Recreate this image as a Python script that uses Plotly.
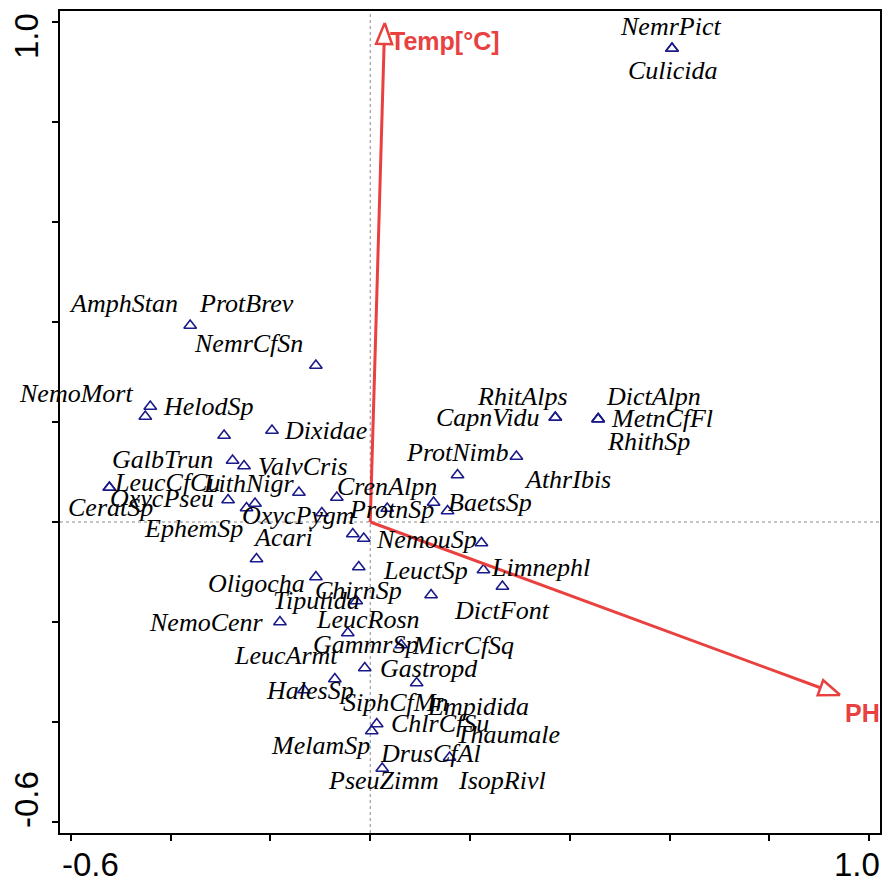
import math
import plotly.graph_objects as go

# ---- species scores (axis 1, axis 2) ----
species = [
    "NemrPict", "Culicida", "AmphStan", "ProtBrev", "NemrCfSn", "NemoMort",
    "HelodSp", "Dixidae", "GalbTrun", "ValvCris", "LeucCfCu", "CeratSp",
    "OxycPseu", "EphemSp", "LithNigr", "IsopRivl", "CrenAlpn", "OxycPygm",
    "Acari", "SiphCfMn", "ProtnSp", "Thaumale", "BaetsSp", "ProtNimb",
    "AthrIbis", "RhitAlps", "CapnVidu", "DictAlpn", "MetnCfFl", "RhithSp",
    "NemouSp", "Limnephl", "DictFont", "LeuctSp", "Oligocha", "ChirnSp",
    "Tipulida", "LeucRosn", "NemoCenr", "GammrSp", "MicrCfSq", "Gastropd",
    "LeucArmt", "HalesSp", "Empidida", "ChlrCfSu", "MelamSp", "DrusCfAl",
    "PseuZimm",
]
axis1 = [
    0.605, 0.605, -0.361, -0.293, -0.109, -0.451,
    -0.441, -0.197, -0.276, -0.253, -0.523, -0.523,
    -0.285, -0.248, -0.231, -0.143, -0.067, -0.097,
    -0.035, -0.013, 0.034, 0.127, 0.155, 0.175,
    0.293, 0.371, 0.371, 0.457, 0.457, 0.457,
    0.223, 0.227, 0.265, 0.122, -0.228, -0.023,
    -0.109, -0.028, -0.181, -0.045, 0.062, -0.011,
    -0.071, -0.133, 0.093, 0.013, 0.003, 0.159,
    0.024,
]
axis2 = [
    0.947, 0.947, 0.393, 0.173, 0.313, 0.211,
    0.231, 0.183, 0.123, 0.112, 0.069, 0.069,
    0.044, 0.028, 0.037, 0.059, 0.049, 0.018,
    -0.024, -0.033, 0.027, 0.039, 0.022, 0.094,
    0.131, 0.209, 0.209, 0.206, 0.206, 0.206,
    -0.042, -0.096, -0.129, -0.146, -0.074, -0.090,
    -0.110, -0.158, -0.200, -0.222, -0.246, -0.292,
    -0.314, -0.336, -0.322, -0.404, -0.418, -0.471,
    -0.493,
]

# label placement offsets in pixels (right, up) from each species point
label_dx = [
    -2, 1, -67, 22, -67, -69,
    58, 54, -70, 59, 58, 1,
    -66, -53, -7, 203, 50, -23,
    -70, 32, 4, 74, 42, 0,
    51, -33, -67, 55, 64, 50,
    -55, 57, 0, -6, 0, 0,
    1, 12, -73, 18, 62, 64,
    -49, 6, 61, 63, -51, -19,
    1,
]
label_dy = [
    22, -22, 22, 132, 22, 23,
    0, 0, 1, 0, 5, -20,
    2, -20, 20, -288, 11, -2,
    -3, -164, -1, -232, 9, 23,
    -23, 21, 0, 23, 1, -22,
    4, 3, -24, 25, -24, -23,
    -23, -18, 0, -11, 0, 0,
    24, 0, -23, 1, -14, 4,
    -12,
]

# ---- environmental variables (biplot arrows) ----
env_names = ["Temp[°C]", "PH"]
env_x = [0.029, 0.942]
env_y = [0.998, -0.346]

# ---- axes ----
x_range = [-0.622, 1.022]
y_range = [-0.622, 1.022]
tick_vals = [-0.6, -0.4, -0.2, 0.0, 0.2, 0.4, 0.6, 0.8, 1.0]
end_labels = ["-0.6", "1.0"]

W, H = 885, 883
M = dict(l=60, r=3, t=11, b=50)
plot_w = W - M["l"] - M["r"]
plot_h = H - M["t"] - M["b"]
ppx = plot_w / (x_range[1] - x_range[0])
ppy = plot_h / (y_range[1] - y_range[0])

RED = "#E8413F"
NAVY = "#1a1a8a"

fig = go.Figure()

# zero lines through the origin
fig.add_shape(type="line", x0=0, x1=0, y0=y_range[0], y1=y_range[1],
              line=dict(color="#8a8a8a", width=1, dash="dot"), layer="below")
fig.add_shape(type="line", x0=x_range[0], x1=x_range[1], y0=0, y1=0,
              line=dict(color="#8a8a8a", width=1, dash="dot"), layer="below")

# species triangles
fig.add_trace(go.Scatter(
    x=axis1, y=axis2, mode="markers",
    marker=dict(symbol="triangle-up-open", size=11, color=NAVY,
                line=dict(color=NAVY, width=1.6)),
    hoverinfo="text", text=species, showlegend=False,
))

# species labels
for name, x, y, dx, dy in zip(species, axis1, axis2, label_dx, label_dy):
    fig.add_annotation(
        x=x, y=y, text=name, showarrow=False, xshift=dx, yshift=dy,
        xanchor="center", yanchor="middle",
        font=dict(family="Liberation Serif", size=26, color="black", style="italic"),
    )

# environmental arrows with open heads
head_len, head_w = 21, 16
for name, ex, ey in zip(env_names, env_x, env_y):
    vx, vy = ex * ppx, ey * ppy
    n = math.hypot(vx, vy)
    ux, uy = vx / n, vy / n
    bx = ex - head_len * ux / ppx
    by = ey - head_len * uy / ppy
    px_, py_ = -uy, ux
    c1 = (bx + head_w / 2 * px_ / ppx, by + head_w / 2 * py_ / ppy)
    c2 = (bx - head_w / 2 * px_ / ppx, by - head_w / 2 * py_ / ppy)
    fig.add_trace(go.Scatter(x=[0, bx], y=[0, by], mode="lines",
                             line=dict(color=RED, width=3), hoverinfo="skip",
                             showlegend=False))
    fig.add_trace(go.Scatter(x=[ex, c1[0], c2[0], ex], y=[ey, c1[1], c2[1], ey],
                             mode="lines", fill="toself", fillcolor="white",
                             line=dict(color=RED, width=2.5), hoverinfo="skip",
                             showlegend=False))
    fig.add_annotation(
        x=ex, y=ey, text=name, showarrow=False,
        xanchor="left", yanchor="middle", xshift=3, yshift=-18,
        font=dict(family="Liberation Sans", size=25, color=RED, weight="bold"),
    )

# end tick labels
tick_font = dict(family="Liberation Sans", size=33, color="black")
fig.add_annotation(xref="paper", yref="paper", x=0, y=0, text=end_labels[0],
                   showarrow=False, xanchor="center", yanchor="middle",
                   xshift=30, yshift=-31, font=tick_font)
fig.add_annotation(xref="paper", yref="paper", x=1, y=0, text=end_labels[1],
                   showarrow=False, xanchor="center", yanchor="middle",
                   xshift=-23, yshift=-31, font=tick_font)
fig.add_annotation(xref="paper", yref="paper", x=0, y=1, text=end_labels[1],
                   showarrow=False, xanchor="center", yanchor="middle",
                   textangle=-90, xshift=-34, yshift=-25, font=tick_font)
fig.add_annotation(xref="paper", yref="paper", x=0, y=0, text=end_labels[0],
                   showarrow=False, xanchor="center", yanchor="middle",
                   textangle=-90, xshift=-34, yshift=33, font=tick_font)

axis_style = dict(
    showgrid=False, zeroline=False, showline=True, mirror=True,
    linecolor="black", linewidth=2, ticks="outside", ticklen=6,
    tickwidth=1.5, tickcolor="black", tickvals=tick_vals,
    showticklabels=False,
)
fig.update_xaxes(range=x_range, **axis_style)
fig.update_yaxes(range=y_range, **axis_style)

fig.update_layout(
    width=W, height=H, margin=M,
    plot_bgcolor="white", paper_bgcolor="white",
    showlegend=False,
)

fig.write_html("out.html")
